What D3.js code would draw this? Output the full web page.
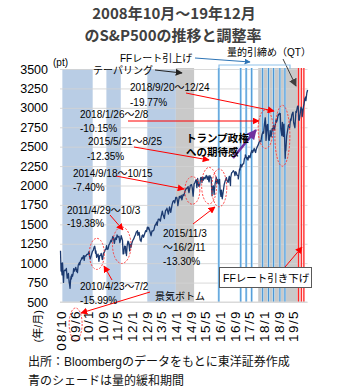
<!DOCTYPE html>
<html><head><meta charset="utf-8">
<script src="https://cdn.jsdelivr.net/npm/d3@7/dist/d3.min.js"></script>
<style>
body{margin:0;background:#fff;}
svg{display:block;}
text{font-family:"Liberation Sans","Noto Sans CJK JP",sans-serif;}
</style></head><body>
<svg id="c" width="348" height="391"></svg>
<script>
// ---- S&P500 values (date, close) ----
const sp2008 = [["2008-10-01",1161],["2008-10-10",899],["2008-10-13",1003],["2008-10-22",896],["2008-10-27",848],["2008-10-31",968],["2008-11-04",1005],["2008-11-20",752],["2008-11-28",896],["2008-12-08",909],["2008-12-16",913],["2008-12-31",903]];
const sp2009 = [["2009-01-06",934],["2009-01-20",805],["2009-01-30",825],["2009-02-09",869],["2009-02-23",743],["2009-02-27",735],["2009-03-09",676],["2009-03-17",778],["2009-03-26",832],["2009-03-31",797],["2009-04-09",856],["2009-04-20",832],["2009-04-30",872],["2009-05-08",929],["2009-05-14",893],["2009-05-29",919],["2009-06-12",946],["2009-06-23",895],["2009-06-30",919],["2009-07-10",879],["2009-07-23",976],["2009-07-31",987],["2009-08-10",1007],["2009-08-17",979],["2009-08-28",1028],["2009-09-10",1044],["2009-09-22",1071],["2009-09-30",1057],["2009-10-19",1097],["2009-10-30",1036],["2009-11-10",1093],["2009-11-27",1091],["2009-11-30",1095],["2009-12-14",1114],["2009-12-31",1115]];
const sp2010 = [["2010-01-19",1150],["2010-01-29",1073],["2010-02-08",1056],["2010-02-26",1104],["2010-03-15",1150],["2010-03-31",1169],["2010-04-15",1211],["2010-04-23",1217],["2010-04-30",1186],["2010-05-06",1128],["2010-05-13",1157],["2010-05-25",1074],["2010-05-31",1089],["2010-06-18",1117],["2010-06-30",1030],["2010-07-02",1022],["2010-07-15",1096],["2010-07-30",1101],["2010-08-09",1127],["2010-08-26",1047],["2010-08-31",1049],["2010-09-15",1125],["2010-09-30",1141],["2010-10-15",1176],["2010-10-29",1183],["2010-11-05",1225],["2010-11-16",1178],["2010-11-30",1180],["2010-12-15",1235],["2010-12-31",1257]];
const sp2011 = [["2011-01-18",1295],["2011-01-28",1276],["2011-01-31",1286],["2011-02-18",1343],["2011-02-28",1327],["2011-03-16",1256],["2011-03-31",1325],["2011-04-18",1305],["2011-04-29",1363],["2011-05-13",1337],["2011-05-31",1345],["2011-06-15",1265],["2011-06-30",1320],["2011-07-07",1353],["2011-07-29",1292],["2011-08-08",1119],["2011-08-19",1123],["2011-08-31",1218],["2011-09-16",1216],["2011-09-22",1129],["2011-09-30",1131],["2011-10-03",1099],["2011-10-14",1224],["2011-10-27",1284],["2011-10-31",1253],["2011-11-08",1275],["2011-11-25",1158],["2011-11-30",1246],["2011-12-19",1205],["2011-12-30",1257]];
const sp2012 = [["2012-01-13",1289],["2012-01-31",1312],["2012-02-15",1343],["2012-02-29",1365],["2012-03-16",1404],["2012-03-30",1408],["2012-04-02",1419],["2012-04-10",1358],["2012-04-30",1397],["2012-05-18",1295],["2012-05-31",1310],["2012-06-01",1278],["2012-06-19",1357],["2012-06-29",1362],["2012-07-12",1334],["2012-07-31",1379],["2012-08-17",1418],["2012-08-31",1406],["2012-09-14",1465],["2012-09-28",1440],["2012-10-05",1460],["2012-10-26",1411],["2012-11-15",1353],["2012-11-30",1416],["2012-12-14",1413],["2012-12-31",1426]];
const sp2013 = [["2013-01-18",1485],["2013-01-31",1498],["2013-02-19",1530],["2013-02-25",1487],["2013-02-28",1514],["2013-03-14",1563],["2013-03-28",1569],["2013-04-18",1541],["2013-04-30",1597],["2013-05-21",1669],["2013-05-31",1630],["2013-06-24",1573],["2013-06-28",1606],["2013-07-15",1682],["2013-07-31",1685],["2013-08-05",1707],["2013-08-30",1632],["2013-09-18",1725],["2013-09-30",1681],["2013-10-08",1655],["2013-10-31",1756],["2013-11-15",1798],["2013-11-29",1805],["2013-12-13",1775],["2013-12-31",1848]];
const sp2014 = [["2014-01-15",1848],["2014-01-31",1782],["2014-02-03",1741],["2014-02-28",1859],["2014-03-14",1841],["2014-03-31",1872],["2014-04-11",1815],["2014-04-30",1883],["2014-05-15",1870],["2014-05-30",1923],["2014-06-20",1962],["2014-06-30",1960],["2014-07-24",1987],["2014-07-31",1930],["2014-08-07",1909],["2014-08-29",2003],["2014-09-18",2011],["2014-09-30",1972],["2014-10-15",1862],["2014-10-31",2018],["2014-11-14",2039],["2014-11-28",2067],["2014-12-05",2075],["2014-12-16",1972],["2014-12-29",2090]];
const sp2015 = [["2015-01-15",1992],["2015-01-30",1994],["2015-02-17",2100],["2015-02-27",2104],["2015-03-11",2040],["2015-03-20",2108],["2015-03-31",2067],["2015-04-15",2106],["2015-04-30",2085],["2015-05-21",2130],["2015-05-29",2107],["2015-06-08",2079],["2015-06-22",2122],["2015-06-30",2063],["2015-07-08",2046],["2015-07-20",2128],["2015-07-31",2103],["2015-08-10",2104],["2015-08-25",1867],["2015-08-31",1972],["2015-09-16",1995],["2015-09-29",1884],["2015-10-15",2023],["2015-10-30",2079],["2015-11-03",2109],["2015-11-13",2023],["2015-11-30",2080],["2015-12-14",2021],["2015-12-29",2078],["2015-12-31",2043]];
const sp2016 = [["2016-01-08",1922],["2016-01-20",1859],["2016-01-29",1940],["2016-02-11",1829],["2016-02-29",1932],["2016-03-15",2015],["2016-03-31",2059],["2016-04-20",2102],["2016-04-29",2065],["2016-05-19",2040],["2016-05-31",2096],["2016-06-08",2119],["2016-06-27",2000],["2016-06-30",2098],["2016-07-15",2161],["2016-07-29",2173],["2016-08-15",2190],["2016-08-31",2170],["2016-09-09",2127],["2016-09-22",2177],["2016-09-30",2168],["2016-10-14",2132],["2016-10-31",2126],["2016-11-04",2085],["2016-11-25",2213],["2016-11-30",2198],["2016-12-13",2271],["2016-12-30",2238]];
const sp2017 = [["2017-01-13",2274],["2017-01-31",2278],["2017-02-15",2349],["2017-02-28",2363],["2017-03-01",2395],["2017-03-27",2341],["2017-03-31",2362],["2017-04-13",2328],["2017-04-28",2384],["2017-05-17",2357],["2017-05-31",2411],["2017-06-19",2453],["2017-06-30",2423],["2017-07-26",2477],["2017-07-31",2470],["2017-08-10",2438],["2017-08-18",2425],["2017-08-31",2471],["2017-09-15",2500],["2017-09-29",2519],["2017-10-16",2557],["2017-10-31",2575],["2017-11-15",2564],["2017-11-30",2647],["2017-12-18",2690],["2017-12-29",2673]];
const sp2018 = [["2018-01-12",2786],["2018-01-26",2872],["2018-01-31",2823],["2018-02-08",2581],["2018-02-26",2779],["2018-02-28",2713],["2018-03-09",2786],["2018-03-23",2588],["2018-03-29",2640],["2018-04-02",2581],["2018-04-18",2708],["2018-04-30",2648],["2018-05-03",2629],["2018-05-21",2733],["2018-05-31",2705],["2018-06-13",2775],["2018-06-28",2716],["2018-07-17",2809],["2018-07-25",2846],["2018-07-31",2816],["2018-08-10",2833],["2018-08-29",2914],["2018-08-31",2901],["2018-09-20",2930],["2018-09-28",2913],["2018-10-03",2925],["2018-10-11",2728],["2018-10-29",2641],["2018-10-31",2711],["2018-11-07",2813],["2018-11-23",2632],["2018-11-30",2760],["2018-12-03",2790],["2018-12-14",2599],["2018-12-24",2351],["2018-12-31",2506]];
const sp2019 = [["2019-01-03",2447],["2019-01-17",2635],["2019-01-31",2704],["2019-02-15",2775],["2019-02-28",2784],["2019-03-08",2743],["2019-03-21",2854],["2019-03-29",2834],["2019-04-12",2907],["2019-04-30",2945],["2019-05-03",2945],["2019-05-13",2811],["2019-05-31",2752],["2019-06-03",2744],["2019-06-20",2954],["2019-06-28",2941],["2019-07-15",3014],["2019-07-26",3025],["2019-07-31",2980],["2019-08-05",2844],["2019-08-14",2840],["2019-08-30",2926],["2019-09-12",3009],["2019-09-30",2976],["2019-10-02",2887],["2019-10-28",3039],["2019-10-31",3037],["2019-11-15",3120],["2019-11-29",3140],["2019-12-03",3093],["2019-12-18",3191],["2019-12-31",3230]];

const yTicks = [500,750,1000,1250,1500,1750,2000,2250,2500,2750,3000,3250,3500];
const xTickDates = ["2008-10-01","2009-06-01","2010-01-01","2010-09-01","2011-05-01","2012-01-01","2012-09-01","2013-05-01","2014-01-01","2014-09-01","2015-05-01","2016-01-01","2016-09-01","2017-05-01","2018-01-01","2018-09-01","2019-05-01"];
const xTickLabels = ["08/10","09/6","10/1","10/9","11/5","12/1","12/9","13/5","14/1","14/9","15/5","16/1","16/9","17/5","18/1","18/9","19/5"];
const qeBands = [["2008-11-01","2010-03-20"],["2010-11-03","2011-06-30"],["2012-09-13","2014-01-01"]];
const grayBands = [["2014-01-01","2014-10-31"],["2017-10-01","2019-08-31"]];
const hikeDates = ["2015-12-16","2016-12-14","2017-03-15","2017-06-14","2017-12-13","2018-03-21","2018-06-13","2018-09-26","2018-12-19"];
const cutDates = ["2019-07-31","2019-09-18","2019-10-30"];
// corrections: start, end, high, low
const corrStart = ["2010-04-23","2011-04-29","2014-09-18","2015-05-21","2015-11-03","2018-01-26","2018-09-20"];
const corrEnd   = ["2010-07-02","2011-10-03","2014-10-15","2015-08-25","2016-02-11","2018-02-08","2018-12-24"];
const corrHigh  = [1217,1363,2011,2130,2109,2872,2930];
const corrLow   = [1022,1099,1862,1867,1829,2581,2351];

const parse = d3.timeParse("%Y-%m-%d");
const series = [].concat(sp2008,sp2009,sp2010,sp2011,sp2012,sp2013,sp2014,sp2015,sp2016,sp2017,sp2018,sp2019)
  .map(d=>({date:parse(d[0]), v:d[1]}));

const L=60, R=307.5, T=69, B=302;
const x = d3.scaleTime().domain([parse("2008-10-01"), parse("2019-12-31")]).range([60.5, 307.6]);
const y = d3.scaleLinear().domain([500,3500]).range([B,T]);

const svg = d3.select("#c");
const defs = svg.append("defs");
function marker(id,color,size){
  defs.append("marker").attr("id",id).attr("viewBox","0 0 10 10").attr("refX",9).attr("refY",5)
    .attr("markerWidth",size).attr("markerHeight",size).attr("markerUnits","userSpaceOnUse")
    .attr("orient","auto").append("path").attr("d","M0,0L10,5L0,10z").attr("fill",color);
}
marker("mr","#ff0000",7); marker("mk","#222",7); marker("mg","#404040",8); marker("mb","#2e75b6",6); marker("mp","#7030a0",10);

// title
svg.append("text").attr("x",174).attr("y",12).attr("text-anchor","middle").attr("dominant-baseline","central")
  .style("font-family","'Noto Sans CJK JP',sans-serif").style("font-weight","bold").style("font-size","15px").attr("fill","#404040")
  .text("2008年10月～19年12月");
svg.append("text").attr("x",173).attr("y",34).attr("text-anchor","middle").attr("dominant-baseline","central")
  .style("font-family","'Noto Sans CJK JP',sans-serif").style("font-weight","bold").style("font-size","15px").attr("fill","#404040")
  .text("のS&P500の推移と調整率");

// bands
const g = svg.append("g");
g.selectAll(".qe").data(qeBands).join("rect")
  .attr("x",d=>x(parse(d[0]))).attr("width",d=>x(parse(d[1]))-x(parse(d[0])))
  .attr("y",T).attr("height",B-T).attr("fill","#b9cde5");
g.selectAll(".gb").data(grayBands).join("rect")
  .attr("x",d=>x(parse(d[0]))).attr("width",d=>x(parse(d[1]))-x(parse(d[0])))
  .attr("y",T-1).attr("height",B-T+1).attr("fill","#c9c9c9");

// gridlines
const grid = svg.append("g").attr("transform",`translate(${L},0)`)
  .call(d3.axisLeft(y).tickValues(yTicks).tickSize(-(R-L)).tickFormat(""));
grid.select(".domain").remove();
grid.selectAll("line").attr("stroke","#d4d4d4").attr("stroke-opacity",0.85);

// y axis labels
const ya = svg.append("g").attr("transform",`translate(${L},0)`)
  .call(d3.axisLeft(y).tickValues(yTicks).tickSize(0).tickPadding(12).tickFormat(d3.format("d")));
ya.select(".domain").remove();
ya.selectAll("text").style("font-family","'Liberation Sans',sans-serif").style("font-size","12.5px").attr("fill","#000");

// hike lines
hikeDates.forEach(d=>{
  const xx = x(parse(d));
  svg.append("line").attr("x1",xx).attr("x2",xx).attr("y1",T-1).attr("y2",B).attr("stroke","#b8def5").attr("stroke-width",2.4);
  svg.append("line").attr("x1",xx).attr("x2",xx).attr("y1",T-1).attr("y2",B).attr("stroke","#3a8ad0").attr("stroke-width",0.9);
});
cutDates.forEach(d=>{
  const xx = x(parse(d));
  svg.append("line").attr("x1",xx).attr("x2",xx).attr("y1",T-1).attr("y2",B).attr("stroke","#ffc0c0").attr("stroke-width",2);
  svg.append("line").attr("x1",xx).attr("x2",xx).attr("y1",T-1).attr("y2",B).attr("stroke","#ff0000").attr("stroke-width",0.9);
});

// bottom axis
const xa = svg.append("g").attr("transform",`translate(0,${B})`)
  .call(d3.axisBottom(x).tickValues(xTickDates.map(parse)).tickSize(0).tickFormat((d,i)=>xTickLabels[i]));
xa.select(".domain").attr("stroke","#d9d9d9").attr("d",`M${L},0H${R}`);
xa.selectAll("text").attr("transform","rotate(-90)").attr("text-anchor","end").attr("x",-8).attr("y",0).attr("dy","0.35em")
  .style("font-family","'Liberation Sans',sans-serif").style("font-size","13.5px").style("letter-spacing","1.4px").attr("fill","#000");
svg.append("text").attr("transform","translate(38,310) rotate(-90)").attr("text-anchor","end").attr("dy","0.35em")
  .style("font-size","11px").attr("fill","#000").text("(年/月)");

// data line
svg.append("path").datum(series).attr("fill","none").attr("stroke","#1c3a70").attr("stroke-width",1.3)
  .attr("stroke-linejoin","round")
  .attr("d",d3.line().x(d=>x(d.date)).y(d=>y(d.v)));

// correction ellipses
corrStart.forEach((s,i)=>{
  const x0=x(parse(s)), x1=x(parse(corrEnd[i])), y0=y(corrHigh[i]), y1=y(corrLow[i]);
  svg.append("ellipse").attr("cx",(x0+x1)/2).attr("cy",(y0+y1)/2)
    .attr("rx",Math.max((x1-x0)/2+4.5,7.5)).attr("ry",(y1-y0)/2+8)
    .attr("fill","none").attr("stroke","#ff3030").attr("stroke-width",0.9).attr("stroke-dasharray","2,1.5");
});
svg.append("ellipse").attr("cx",x(parse("2009-06-01"))+0.5).attr("cy",324).attr("rx",6.5).attr("ry",16)
  .attr("fill","none").attr("stroke","#ff3030").attr("stroke-width",0.9).attr("stroke-dasharray","2,1.5");

// arrows
const redArrows = [[186,93,274,111],[128,121,259,121],[134,147,209,160],[116,176,184,189],[110,215,123,230],[112,280,104,266],[193,224,215,207],[150,292,81,313],[285,267,302,247]];
redArrows.forEach(a=>svg.append("line").attr("x1",a[0]).attr("y1",a[1]).attr("x2",a[2]).attr("y2",a[3])
  .attr("stroke","#ff0000").attr("stroke-width",1).attr("marker-end","url(#mr)"));
svg.append("line").attr("x1",155).attr("y1",70).attr("x2",182).attr("y2",73).attr("stroke","#222").attr("stroke-width",1).attr("marker-end","url(#mk)");
svg.append("line").attr("x1",283).attr("y1",59).attr("x2",296).attr("y2",86).attr("stroke","#404040").attr("stroke-width",1).attr("marker-end","url(#mg)");
svg.append("line").attr("x1",195).attr("y1",58).attr("x2",250).attr("y2",62).attr("stroke","#2e75b6").attr("stroke-width",1).attr("marker-end","url(#mb)");
svg.append("path").attr("d","M219,69V65H290V69").attr("fill","none").attr("stroke","#8fc1ea").attr("stroke-width",1.2);
svg.append("line").attr("x1",233).attr("y1",158).attr("x2",256).attr("y2",130).attr("stroke","#7030a0").attr("stroke-width",2.5).attr("marker-end","url(#mp)");

// annotation texts
const notes = [
 ["(pt)",53,62],["テーパリング",93,70],["FFレート引上げ",120,58],["量的引締め（QT）",227,52],
 ["2018/9/20～12/24",130,87],["-19.77%",130,102],
 ["2018/1/26～2/8",80,114],["-10.15%",80,128],
 ["2015/5/21～8/25",88,141],["-12.35%",87,156],
 ["2014/9/18～10/15",73,173],["-7.40%",73,187],
 ["2011/4/29～10/3",67,210],["-19.38%",67,223],
 ["2010/4/23～7/2",80,286],["-15.99%",80,300],
 ["2015/11/3",163,233],["～16/2/11",163,247],["-13.30%",163,261],
 ["景気ボトム",155,296]
];
notes.forEach(n=>svg.append("text").attr("x",n[1]).attr("y",n[2]).attr("dominant-baseline","central")
  .style("font-size","10px").attr("fill","#000").text(n[0]));
svg.append("text").attr("x",186).attr("y",137).attr("dominant-baseline","central").style("font-size","10.5px").style("font-weight","bold")
  .style("font-family","'Noto Sans CJK JP',sans-serif").attr("fill","#000").text("トランプ政権");
svg.append("text").attr("x",186).attr("y",151).attr("dominant-baseline","central").style("font-size","10.5px").style("font-weight","bold")
  .style("font-family","'Noto Sans CJK JP',sans-serif").attr("fill","#000").text("への期待感");

// rate cut box
svg.append("rect").attr("x",219.5).attr("y",267.5).attr("width",92).attr("height",20).attr("fill","#fff").attr("stroke","#595959").attr("stroke-width",1);
svg.append("text").attr("x",223).attr("y",277.5).attr("dominant-baseline","central").style("font-size","10.5px").attr("fill","#000").text("FFレート引き下げ");

// footer
svg.append("text").attr("x",28).attr("y",362).attr("dominant-baseline","central").style("font-size","12px").attr("fill","#111")
  .text("出所：Bloombergのデータをもとに東洋証券作成");
svg.append("text").attr("x",28).attr("y",381).attr("dominant-baseline","central").style("font-size","12px").attr("fill","#111")
  .text("青のシェードは量的緩和期間");
</script>
</body></html>
